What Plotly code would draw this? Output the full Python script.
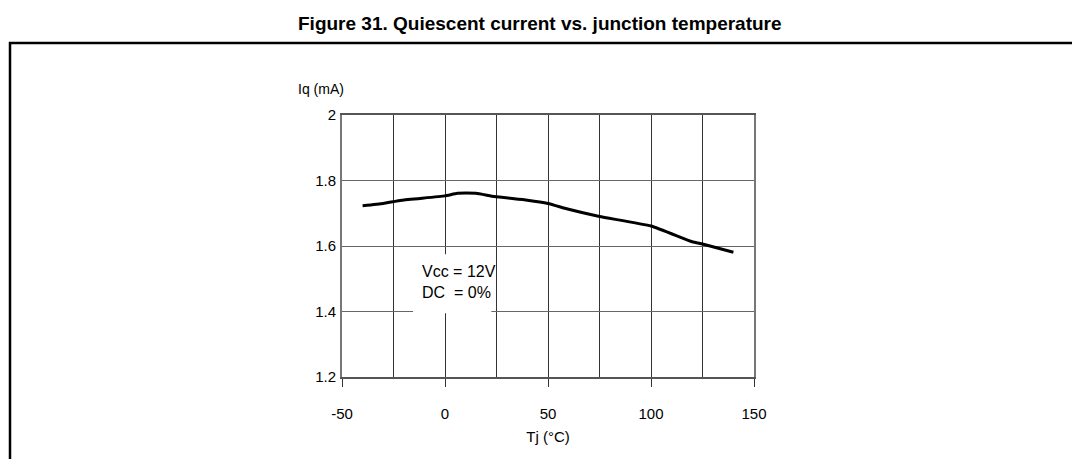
import plotly.graph_objects as go

# Data
tj = [-40, -30, -21, 0, 6, 15, 24, 40, 50, 60, 75, 100, 120, 125, 140]
iq = [1.723, 1.730, 1.740, 1.753, 1.761, 1.761, 1.751, 1.740, 1.730, 1.712, 1.690, 1.661, 1.613, 1.606, 1.581]

x_ticks = [-50, 0, 50, 100, 150]
y_ticks = [1.2, 1.4, 1.6, 1.8, 2]
y_tick_labels = ["1.2", "1.4", "1.6", "1.8", "2"]

title_text = "Figure 31. Quiescent current vs. junction temperature"
note_lines = ["Vcc = 12V", "DC  = 0%"]

FONT = "Liberation Sans, Arial, sans-serif"

fig = go.Figure()
fig.add_trace(go.Scatter(x=tj, y=iq, mode="lines",
                         line=dict(color="black", width=3, shape="spline", smoothing=0.4),
                         showlegend=False, hoverinfo="skip"))

fig.update_layout(
    width=1080, height=459,
    margin=dict(l=334, r=334, t=107, b=90),
    paper_bgcolor="white", plot_bgcolor="white",
    font=dict(family=FONT, color="black"),
    showlegend=False,
)

fig.update_xaxes(
    range=[-50, 150], tickvals=x_ticks, ticktext=[str(v) for v in x_ticks],
    showgrid=True, gridcolor="#333", gridwidth=1,
    minor=dict(dtick=25, tick0=-50, showgrid=True, gridcolor="#333", gridwidth=1, ticks=""),
    zeroline=False, showline=True, linecolor="#555", linewidth=2, mirror=True,
    ticks="outside", ticklen=8, tickcolor="#333", tickwidth=1,
    ticklabelstandoff=14,
    tickfont=dict(size=15, family=FONT),
    title=dict(text="Tj (°C)", font=dict(size=15, family=FONT), standoff=10),
)
fig.update_yaxes(
    range=[1.2, 2], tickvals=y_ticks, ticktext=y_tick_labels,
    showgrid=True, gridcolor="#666", gridwidth=1,
    zeroline=False, showline=True, linecolor="#777", linewidth=2, mirror=True,
    ticks="", ticklabelstandoff=1,
    tickfont=dict(size=15, family=FONT),
)

# white box behind the note
fig.add_shape(type="rect", xref="x", yref="y", x0=-15.5, x1=22.5, y0=1.395, y1=1.575,
              fillcolor="white", line=dict(width=0), layer="above")
fig.add_annotation(xref="x", yref="y", x=-12, y=1.49, xanchor="left", yanchor="middle",
                   text="<br>".join(note_lines), showarrow=False, align="left",
                   font=dict(size=16, family=FONT, color="black"))

# y axis unit label
fig.add_annotation(xref="paper", yref="paper", x=(321 - 342) / 412, y=(377 - 89) / 262,
                   xanchor="center", yanchor="middle", text="Iq (mA)", showarrow=False,
                   font=dict(size=14, family=FONT, color="black"))

# figure title
fig.add_annotation(xref="paper", yref="paper", x=(540 - 342) / 412, y=(377 - 23) / 262,
                   xanchor="center", yanchor="middle", text="<b>" + title_text + "</b>",
                   showarrow=False, font=dict(size=19, family=FONT, color="black"))

# outer frame
fig.add_shape(type="rect", xref="paper", yref="paper",
              x0=(10 - 342) / 412, x1=(1090 - 342) / 412,
              y0=(377 - 480) / 262, y1=(377 - 43) / 262,
              line=dict(color="black", width=2.5), fillcolor="rgba(0,0,0,0)", layer="above")

fig.write_html("out.html")
